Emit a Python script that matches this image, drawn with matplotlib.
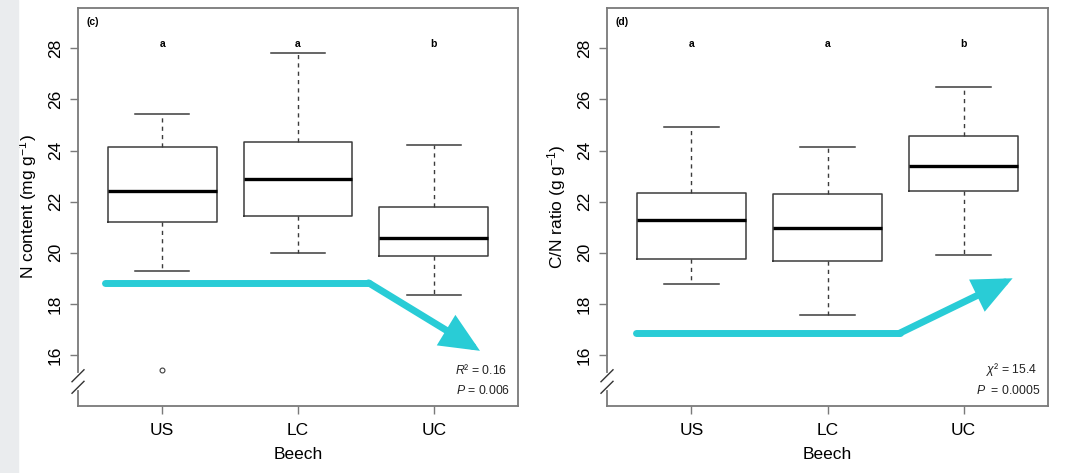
import numpy as np
import matplotlib
matplotlib.use("Agg")
import matplotlib.pyplot as plt
from matplotlib.patches import Rectangle

plt.rcParams['font.family'] = ['Liberation Sans', 'DejaVu Sans']
plt.rcParams['mathtext.fontset'] = 'custom'
plt.rcParams['mathtext.rm'] = 'Liberation Sans'
plt.rcParams['mathtext.it'] = 'Liberation Sans:italic'
plt.rcParams['mathtext.bf'] = 'Liberation Sans:bold'

# data
sites = ['US', 'LC', 'UC']
letters = ['a', 'a', 'b']

# N content (mg g-1): whisker low, Q1, median, Q3, whisker high
n_whislo = [19.30, 19.99, 18.33]
n_q1 = [21.19, 21.42, 19.89]
n_med = [22.42, 22.89, 20.59]
n_q3 = [24.14, 24.32, 21.79]
n_whishi = [25.44, 27.82, 24.20]
n_fliers = [[15.4], [], []]

# C/N ratio (g g-1)
cn_whislo = [18.77, 17.57, 19.93]
cn_q1 = [19.76, 19.67, 22.43]
cn_med = [21.29, 20.95, 23.41]
cn_q3 = [22.34, 22.29, 24.57]
cn_whishi = [24.91, 24.14, 26.50]
cn_fliers = [[], [], []]

# trend arrows (start, bend, tip) in data units
n_arrow = [(0.58, 18.82), (2.52, 18.82), (3.34, 16.16)]
cn_arrow = [(0.59, 16.85), (2.53, 16.85), (3.36, 19.0)]

yticks = [16, 18, 20, 22, 24, 26, 28]
cyan = '#29ccd6'
spine_col = '#7a7a7a'
box_col = '#3c3c3c'


def make_stats(lo, q1, med, q3, hi, fl):
    out = []
    for i in range(len(sites)):
        out.append(dict(whislo=lo[i], q1=q1[i], med=med[i], q3=q3[i],
                        whishi=hi[i], fliers=fl[i], label=sites[i]))
    return out


def draw_panel(ax, stats, tag, ylabel, arrow, stat1, stat2):
    ax.bxp(stats, positions=[1, 2, 3], widths=0.8, capwidths=0.4,
           boxprops=dict(color=box_col, lw=1.1),
           whiskerprops=dict(color=box_col, lw=1.0, linestyle=(0, (3, 3))),
           capprops=dict(color=box_col, lw=1.1),
           medianprops=dict(color='black', lw=2.4),
           flierprops=dict(marker='o', markersize=3.5, markerfacecolor='none',
                           markeredgecolor=box_col, markeredgewidth=0.8))
    ax.set_xlim(0.38, 3.62)
    ax.set_ylim(14.0, 29.58)
    ax.set_yticks(yticks)
    ax.set_yticklabels([str(t) for t in yticks], rotation=90, va='center')
    ax.set_xticks([1, 2, 3])
    ax.set_xticklabels(sites)
    ax.tick_params(axis='both', labelsize=12.5, length=6, width=1,
                   color=spine_col, pad=6)
    ax.tick_params(axis='y', pad=5)
    for s in ax.spines.values():
        s.set_color(spine_col)
        s.set_linewidth(1.3)
    ax.set_ylabel(ylabel, fontsize=12.5, labelpad=6)
    ax.set_xlabel('Beech', fontsize=12.5, labelpad=7)

    # arrow
    xs = [p[0] for p in arrow]
    ys = [p[1] for p in arrow]
    ax.plot(xs[:2], ys[:2], color=cyan, lw=5, solid_capstyle='round', zorder=4)
    ax.annotate('', xy=arrow[2], xytext=arrow[1],
                arrowprops=dict(arrowstyle='-|>,head_length=2.0,head_width=0.9',
                                color=cyan, lw=5, shrinkA=0, shrinkB=0,
                                joinstyle='miter'), zorder=4)

    # labels
    ax.text(0.019, 0.965, tag, transform=ax.transAxes, fontsize=7.5,
            fontweight='bold', ha='left', va='center')
    for i, l in enumerate(letters):
        ax.text(i + 1, 28.17, l, fontsize=7.5, fontweight='bold',
                ha='center', va='center')
    ax.text(0.975, 0.091, stat1, transform=ax.transAxes, fontsize=8.8,
            ha='right', va='center', color='#222222')
    ax.text(0.982, 0.038, stat2, transform=ax.transAxes, fontsize=8.8,
            ha='right', va='center', color='#222222')

    # axis break on the y axis
    ax.plot([0, 0], [0.046, 0.078], transform=ax.transAxes, color='white',
            lw=3, clip_on=False, zorder=5)
    dx, dy = 0.0136, 0.015
    for yc in [0.076, 0.047]:
        ax.plot([-dx, dx], [yc - dy, yc + dy], transform=ax.transAxes,
                color='#333333', lw=1.0, clip_on=False, zorder=6)


fig = plt.figure(figsize=(10.68, 4.73), dpi=100)
fig.patches.append(Rectangle((0, 0), 18 / 1068, 1, transform=fig.transFigure,
                             color='#eaecee', zorder=0))

ax1 = fig.add_axes([78 / 1068, 67 / 473, 440 / 1068, 398 / 473])
ax2 = fig.add_axes([607 / 1068, 67 / 473, 441 / 1068, 398 / 473])

draw_panel(ax1, make_stats(n_whislo, n_q1, n_med, n_q3, n_whishi, n_fliers),
           '(c)', 'N content (mg g$^{-1}$)', n_arrow,
           '$R$² = 0.16', '$P$ = 0.006')
draw_panel(ax2, make_stats(cn_whislo, cn_q1, cn_med, cn_q3, cn_whishi, cn_fliers),
           '(d)', 'C/N ratio (g g$^{-1}$)', cn_arrow,
           '$\\chi$² = 15.4', '$P$  = 0.0005')

fig.savefig('out.png', dpi=100)
